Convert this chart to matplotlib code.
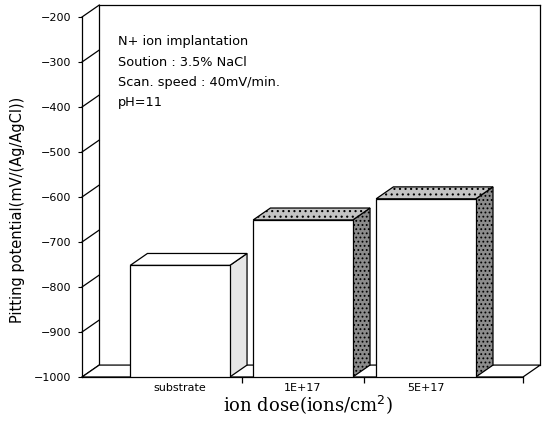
import numpy as np
import matplotlib.pyplot as plt
from matplotlib.patches import Polygon

# dados
categorias = ['substrate', '1E+17', '5E+17']
potencial = [-752, -651, -604]
yticks = [-1000, -900, -800, -700, -600, -500, -400, -300, -200]
notas = ['N+ ion implantation', 'Soution : 3.5% NaCl',
         'Scan. speed : 40mV/min.', 'pH=11']

base = -1000
x0, x1 = -0.797, 2.789
dx, dy = 0.14, 26.5     # profundidade do efeito 3D
largura = 0.81

plt.rcParams['hatch.linewidth'] = 0.8

fig = plt.figure(figsize=(5.47, 4.25), dpi=100)
ax = fig.add_axes([82/547, 48/425, 441/547, 360/425])
ax.set_xlim(x0, x1)
ax.set_ylim(base, -200)

# parede de fundo e piso
kw = dict(color='black', lw=0.9, clip_on=False)
ax.plot([x0 + dx, x0 + dx], [base + dy, yticks[-1] + dy], zorder=1, **kw)
ax.plot([x0 + dx, x1 + dx], [yticks[-1] + dy] * 2, zorder=1, **kw)
ax.plot([x1 + dx, x1 + dx], [base + dy, yticks[-1] + dy], zorder=1, **kw)
for v in yticks:
    ax.plot([x0, x0 + dx], [v, v + dy], zorder=1, **kw)
piso = Polygon([(x0, base), (x1, base), (x1 + dx, base + dy), (x0 + dx, base + dy)],
               closed=True, facecolor='white', edgecolor='black', lw=0.9,
               clip_on=False, zorder=2)
ax.add_patch(piso)

# barras com lados e topo (pontilhado imitando o scan)
x = np.arange(len(categorias))
cores_lado = ['#e6e6e6', '#8c8c8c', '#8c8c8c']
cores_topo = ['white', '#c4c4c4', '#c4c4c4']
hatch_lado = [None, '....', '....']
hatch_topo = [None, '...', '...']
for xi, v, cl, ct, hl, ht in zip(x, potencial, cores_lado, cores_topo, hatch_lado, hatch_topo):
    xr = xi + largura / 2
    xl = xi - largura / 2
    lado = Polygon([(xr, base), (xr + dx, base + dy), (xr + dx, v + dy), (xr, v)],
                   closed=True, facecolor=cl, edgecolor='black', lw=0.9,
                   hatch=hl, zorder=4)
    topo = Polygon([(xl, v), (xl + dx, v + dy), (xr + dx, v + dy), (xr, v)],
                   closed=True, facecolor=ct, edgecolor='black', lw=0.9,
                   hatch=ht, zorder=4)
    ax.add_patch(lado)
    ax.add_patch(topo)
ax.bar(x, np.array(potencial) - base, bottom=base, width=largura,
       facecolor='white', edgecolor='black', lw=0.9, zorder=5)

# eixos
for s in ['top', 'right']:
    ax.spines[s].set_visible(False)
ax.spines['left'].set_linewidth(0.9)
ax.spines['bottom'].set_linewidth(0.9)
ax.set_yticks(yticks)
ax.set_yticklabels([f'{v}'.replace('-', '\u2212') for v in yticks])
ax.tick_params(axis='y', length=3, pad=5, labelsize=8)
ax.set_xticks(x)
ax.set_xticklabels(categorias)
ax.tick_params(axis='x', length=0, pad=4, labelsize=8)
ax.set_xticks([0.5, 1.5, x1], minor=True)
ax.tick_params(axis='x', which='minor', length=4, width=0.9)

fig.text(18/547, 1 - 210/425, 'Pitting potential(mV/(Ag/AgCl))', rotation=90,
         ha='center', va='center', fontsize=10.5)
fig.text(308/547, 1 - 405/425, 'ion dose(ions/cm$^2$)', ha='center', va='center',
         fontsize=13, family='DejaVu Serif')
for i, t in enumerate(notas):
    fig.text(118/547, 1 - (42 + 20.3 * i)/425, t, ha='left', va='center', fontsize=9.3)

fig.savefig('out.png', dpi=100)
